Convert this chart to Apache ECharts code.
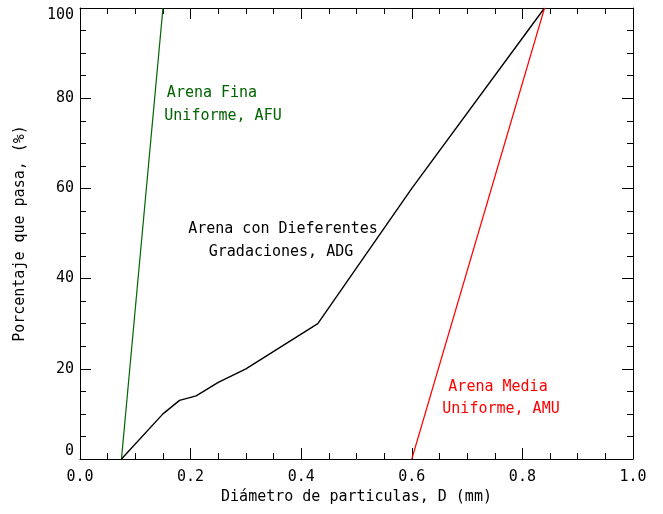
<!DOCTYPE html>
<html><head><meta charset="utf-8">
<script src="https://cdn.jsdelivr.net/npm/echarts@6/dist/echarts.min.js"></script>
<style>html,body{margin:0;padding:0;background:#fff}#c{width:663px;height:514px}</style>
</head><body><div id="c"></div>
<script>
var afuX = [0.075, 0.15];
var afuY = [0, 100];
var adgX = [0.075, 0.15, 0.18, 0.21, 0.25, 0.30, 0.43, 0.60, 0.84];
var adgY = [0, 10, 13, 14, 17, 20, 30, 60, 100];
var amuX = [0.60, 0.84];
var amuY = [0, 100];
var xTicks = [0, 0.2, 0.4, 0.6, 0.8, 1.0];
var yTicks = [0, 20, 40, 60, 80, 100];

function pairs(xs, ys){ return xs.map(function(x,i){return [x, ys[i]];}); }
var F = '"DejaVu Sans Mono"';
var chart = echarts.init(document.getElementById('c'));
var tick = {show:true, inside:true, length:11, lineStyle:{color:'#000', width:1}};
var minor = {show:true, splitNumber:4, length:6, lineStyle:{color:'#000', width:1}};
var axLine = {show:true, onZero:false, lineStyle:{color:'#000', width:1}};
var fnt = '15px "DejaVu Sans Mono"';
chart.setOption({
  animation:false,
  grid:{left:80, right:30, top:8, bottom:55, containLabel:false},
  xAxis:[{
    type:'value', min:0, max:1, interval:0.2, position:'bottom',
    axisLine:axLine, axisTick:tick, minorTick:minor, splitLine:{show:false},
    axisLabel:{color:'#000', fontFamily:'DejaVu Sans Mono', fontSize:15, margin:11,
      formatter:function(v){return v.toFixed(1);}},
    name:'Diámetro de particulas, D (mm)', nameLocation:'middle', nameGap:31,
    nameTextStyle:{color:'#000', fontFamily:'DejaVu Sans Mono', fontSize:15}
  },{
    type:'value', min:0, max:1, interval:0.2, position:'top',
    axisLine:axLine, axisTick:tick, minorTick:minor, splitLine:{show:false},
    axisLabel:{show:false}
  }],
  yAxis:[{
    type:'value', min:0, max:100, interval:20, position:'left',
    axisLine:axLine, axisTick:tick, minorTick:minor, splitLine:{show:false},
    axisLabel:{color:'#000', fontFamily:'DejaVu Sans Mono', fontSize:15, margin:6,
      verticalAlignMinLabel:'bottom', verticalAlignMaxLabel:'top'},
    name:'Porcentaje que pasa, (%)', nameLocation:'middle', nameGap:52,
    nameTextStyle:{color:'#000', fontFamily:'DejaVu Sans Mono', fontSize:15}
  },{
    type:'value', min:0, max:100, interval:20, position:'right',
    axisLine:axLine, axisTick:tick, minorTick:minor, splitLine:{show:false},
    axisLabel:{show:false}
  }],
  series:[
    {type:'line', data:pairs(afuX, afuY), symbol:'none', lineStyle:{color:'#006400', width:1.2}},
    {type:'line', data:pairs(adgX, adgY), symbol:'none', lineStyle:{color:'#000000', width:1.4}},
    {type:'line', data:pairs(amuX, amuY), symbol:'none', lineStyle:{color:'#ff0000', width:1.2}}
  ],
  graphic:[
    {type:'text', x:212, y:93, style:{text:'Arena Fina', fill:'#006400', font:fnt, align:'center', verticalAlign:'middle'}},
    {type:'text', x:223, y:116, style:{text:'Uniforme, AFU', fill:'#006400', font:fnt, align:'center', verticalAlign:'middle'}},
    {type:'text', x:283, y:229, style:{text:'Arena con Dieferentes', fill:'#000', font:fnt, align:'center', verticalAlign:'middle'}},
    {type:'text', x:281, y:252, style:{text:'Gradaciones, ADG', fill:'#000', font:fnt, align:'center', verticalAlign:'middle'}},
    {type:'text', x:498, y:387, style:{text:'Arena Media', fill:'#ff0000', font:fnt, align:'center', verticalAlign:'middle'}},
    {type:'text', x:501, y:409, style:{text:'Uniforme, AMU', fill:'#ff0000', font:fnt, align:'center', verticalAlign:'middle'}}
  ]
});
</script></body></html>
